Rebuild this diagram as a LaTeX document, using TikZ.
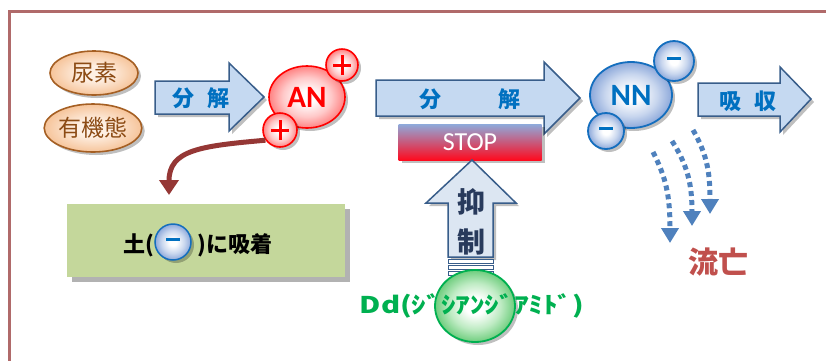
\documentclass[tikz,border=0pt]{standalone}
\usepackage{fontspec}
\newfontfamily\jp{Noto Sans CJK JP}
\newfontfamily\latf{Carlito}
\usetikzlibrary{shadows,arrows.meta,shapes.geometric}
\definecolor{frame}{RGB}{176,106,106}
\definecolor{peachin}{RGB}{254,240,228}
\definecolor{peachout}{RGB}{246,196,154}
\definecolor{brownb}{RGB}{165,95,35}
\definecolor{browntxt}{RGB}{140,75,20}
\definecolor{arrfill}{RGB}{197,217,241}
\definecolor{arrfill2}{RGB}{220,230,242}
\definecolor{arredge}{RGB}{56,93,138}
\definecolor{bluetxt}{RGB}{0,112,192}
\definecolor{anout}{RGB}{255,130,130}
\definecolor{anmid}{RGB}{255,200,200}
\definecolor{nnout}{RGB}{140,168,218}
\definecolor{nnmid}{RGB}{200,214,238}
\definecolor{nnedge}{RGB}{20,110,190}
\definecolor{stoptop}{RGB}{142,170,219}
\definecolor{stopbot}{RGB}{255,10,30}
\definecolor{brownarr}{RGB}{149,55,53}
\definecolor{greenbox}{RGB}{196,215,155}
\definecolor{dotblue}{RGB}{79,129,189}
\definecolor{lossred}{RGB}{192,80,77}
\definecolor{navytxt}{RGB}{40,58,92}
\definecolor{ddgreen}{RGB}{0,176,80}
\definecolor{ddout}{RGB}{110,205,125}
\definecolor{ddmid}{RGB}{190,235,195}
\pgfdeclareradialshading{anshade}{\pgfpoint{0bp}{0bp}}{color(0bp)=(white); color(5bp)=(white); color(16bp)=(anmid); color(25bp)=(anout); color(50bp)=(anout)}
\pgfdeclareradialshading{nnshade}{\pgfpoint{0bp}{0bp}}{color(0bp)=(white); color(5bp)=(white); color(16bp)=(nnmid); color(25bp)=(nnout); color(50bp)=(nnout)}
\pgfdeclareradialshading{ddshade}{\pgfpoint{0bp}{0bp}}{color(0bp)=(white); color(6bp)=(white); color(16bp)=(ddmid); color(25bp)=(ddout); color(50bp)=(ddout)}
\pgfdeclareradialshading{peachshade}{\pgfpoint{0bp}{0bp}}{color(0bp)=(peachin); color(8bp)=(peachin); color(25bp)=(peachout); color(50bp)=(peachout)}
\begin{document}
\begin{tikzpicture}[x=1pt,y=-1pt,
  shd/.style={drop shadow={shadow xshift=3pt,shadow yshift=-3pt,opacity=0.25,fill=black}},
  peachell/.style={ellipse,draw=brownb,line width=1.6pt,shading=peachshade,inner sep=0pt,shd,
    font=\jp\fontsize{23}{23}\selectfont,text=browntxt},
  blockarr/.style={draw=arredge,line width=1.5pt,fill=arrfill,shd},
  uparr/.style={draw=arredge,line width=1.5pt,fill=arrfill2,shd},
  arrtxt/.style={font=\jp\bfseries\fontsize{22}{22}\selectfont,text=bluetxt},
  anball/.style={ellipse,draw=red,line width=1.6pt,shading=anshade,inner sep=0pt,shd,
    font=\latf\bfseries\fontsize{31}{31}\selectfont,text=red},
  nnball/.style={ellipse,draw=nnedge,line width=1.8pt,shading=nnshade,inner sep=0pt,shd,
    font=\latf\bfseries\fontsize{31}{31}\selectfont,text=bluetxt},
  plussign/.style={path picture={\draw[red,line width=3pt]
    ([xshift=-9pt]path picture bounding box.center) -- ([xshift=9pt]path picture bounding box.center)
    ([yshift=-10pt]path picture bounding box.center) -- ([yshift=10pt]path picture bounding box.center);}},
  minussign/.style={path picture={\draw[bluetxt,line width=3pt]
    ([xshift=-7pt,yshift=3pt]path picture bounding box.center) -- ([xshift=7pt,yshift=3pt]path picture bounding box.center);}},
  boxtxt/.style={font=\jp\bfseries\fontsize{22}{22}\selectfont,text=black,inner sep=0pt},
  dotarrow/.style={dotblue,line width=5pt,dash pattern=on 5pt off 4pt,-{Triangle[width=17pt,length=15pt]}},
]
\useasboundingbox (0,0) rectangle (826,360);
% frame
\draw[frame,line width=3pt] (9,380) -- (9,11) -- (840,11);

% left ellipses
\node[peachell,minimum width=88pt,minimum height=44pt] (urea) at (94,73) {尿素};
\node[peachell,minimum width=90pt,minimum height=48pt] (org) at (93,128) {有機態};

% arrow 1
\filldraw[blockarr] (155,81) -- (229,81) -- (229,63) -- (264,97) -- (229,131) -- (229,114) -- (155,114) -- cycle;
\node[arrtxt] (t1) at (201,98) {分\hspace{13pt}解};

% AN
\node[anball,minimum width=76pt,minimum height=62pt] (an) at (307,97) {AN};
\node[anball,circle,minimum size=32pt,plussign] (pt) at (342,65) {};
\node[anball,circle,minimum size=34pt,plussign] (pb) at (280,130) {};

% arrow 2
\filldraw[blockarr] (376,80) -- (544,80) -- (544,62) -- (580,98) -- (544,134) -- (544,116) -- (376,116) -- cycle;
\node[arrtxt] (t2) at (470,99) {分\hspace{58pt}解};

% STOP bar
\node[rectangle,minimum width=143pt,minimum height=36pt,top color=stoptop,bottom color=stopbot,inner sep=0pt,shd,
  font=\latf\fontsize{26}{26}\selectfont,text=white] (stop) at (470,142) {STOP};

% NN
\node[nnball,minimum width=82pt,minimum height=66pt] (nn) at (631,95) {NN};
\node[nnball,circle,minimum size=40pt,minussign] (mt) at (674,61) {};
\node[nnball,circle,minimum size=36pt,minussign] (mb) at (606,131) {};

% arrow 3
\filldraw[blockarr] (698,83) -- (780,83) -- (780,67) -- (811,99) -- (780,132) -- (780,116) -- (698,116) -- cycle;
\node[arrtxt] (t3) at (748,101) {吸\hspace{13pt}収};

% brown arrow to green box
\node[rectangle,fill=greenbox,minimum width=278pt,minimum height=73pt,inner sep=0pt,
  drop shadow={shadow xshift=5pt,shadow yshift=-5pt,opacity=0.3,fill=black}] (box) at (206,240.5) {};
\coordinate (bt) at (169,195);
\draw[brownarr,line width=5pt,-{Triangle[width=19pt,length=15pt]}] (pb.215) .. controls (200,146) and (169,150) .. (bt);
\node[boxtxt,anchor=east] (g1) at (154,245) {土(};
\node[nnball,circle,minimum size=36pt,minussign,line width=1.5pt] (gm) at (173,242) {};
\node[boxtxt,anchor=west] (g2) at (197,245) {)に吸着};

% up arrow
\filldraw[uparr] (448,257) -- (448,203) -- (426,203) -- (472,160) -- (516,203) -- (493,203) -- (493,257) -- cycle;
\draw[arredge,line width=1pt,fill=white] (448,259.5) rectangle (493,263);
\draw[arredge,line width=1pt,fill=white] (448,265.5) rectangle (493,269);
\draw[arredge,line width=1pt,fill=white] (448,271.5) rectangle (493,275);
\node[font=\jp\bfseries\fontsize{28}{28}\selectfont,text=navytxt] (yoku) at (471,202) {抑};
\node[font=\jp\bfseries\fontsize{28}{28}\selectfont,text=navytxt] (sei) at (471,242) {制};

% green ball + Dd text
\node[ellipse,draw=ddgreen,line width=1.8pt,shading=ddshade,minimum width=80pt,minimum height=72pt,shd] (dd) at (475,306) {};
\node[font=\jp\bfseries\fontsize{23}{23}\selectfont,text=ddgreen,xscale=1.27] (ddtxt) at (472,306) {Dd(ｼﾞｼｱﾝｼﾞｱﾐﾄﾞ)};

% dotted loss arrows
\coordinate (d1s) at (653,152); \coordinate (d1e) at (670,243);
\coordinate (d2s) at (672,141); \coordinate (d2e) at (692,226);
\coordinate (d3s) at (693,130); \coordinate (d3e) at (710,214);
\draw[dotarrow] (d1s) .. controls (666,178) and (670,195) .. (d1e);
\draw[dotarrow] (d2s) .. controls (688,166) and (692,185) .. (d2e);
\draw[dotarrow] (d3s) .. controls (708,156) and (710,175) .. (d3e);
\node[font=\jp\bfseries\fontsize{30}{30}\selectfont,text=lossred] (loss) at (718,262) {流亡};
\end{tikzpicture}
\end{document}
